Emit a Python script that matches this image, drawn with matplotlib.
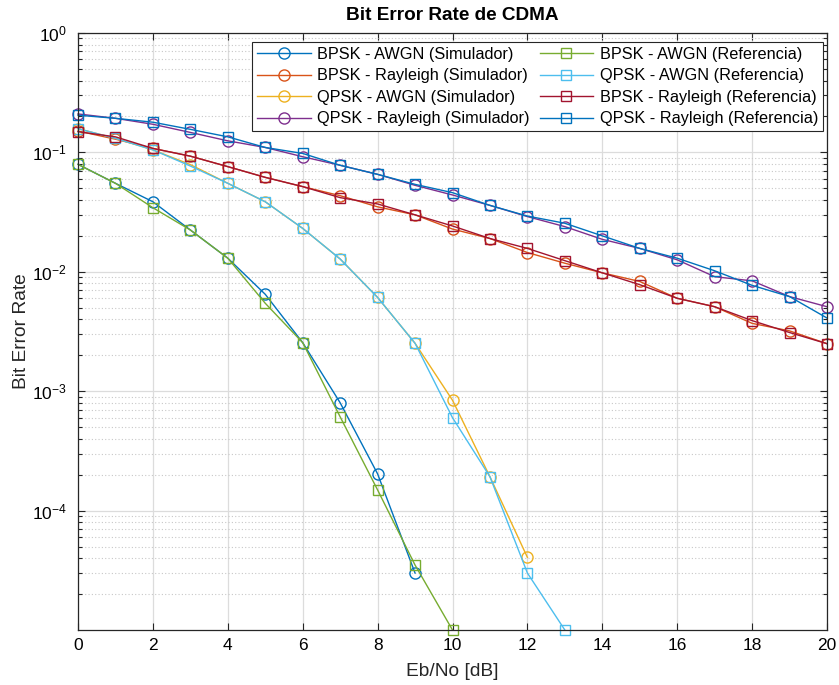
import numpy as np
import matplotlib
matplotlib.use("Agg")
import matplotlib.pyplot as plt
from matplotlib.ticker import LogLocator, FixedLocator, NullFormatter

plt.rcParams['font.family'] = ['Liberation Sans', 'DejaVu Sans']

ebno = np.arange(0, 21)
nan = np.nan

# Simulated bit error rates
bpsk_awgn_sim = [0.0794, 0.0551, 0.0386, 0.0224, 0.0130, 0.00648, 0.00255, 8.0e-4,
                 2.03e-4, 3.0e-5, nan, nan, nan, nan, nan, nan, nan, nan, nan, nan, nan]
bpsk_ray_sim = [0.151, 0.129, 0.108, 0.093, 0.076, 0.0618, 0.0517, 0.0434, 0.035, 0.030,
                0.0228, 0.019, 0.0145, 0.0118, 0.0098, 0.0083, 0.0060, 0.0051, 0.0037,
                0.0032, 0.0025]
qpsk_awgn_sim = [0.158, 0.131, 0.105, 0.079, 0.0551, 0.0386, 0.0231, 0.0128, 0.0061,
                 0.00252, 8.4e-4, 1.92e-4, 4.06e-5, nan, nan, nan, nan, nan, nan, nan, nan]
qpsk_ray_sim = [0.210, 0.193, 0.172, 0.147, 0.125, 0.110, 0.092, 0.078, 0.0655, 0.053,
                0.044, 0.036, 0.0290, 0.0239, 0.0187, 0.0157, 0.0126, 0.0091, 0.0084,
                0.0062, 0.0051]

# Reference (theoretical) bit error rates
bpsk_awgn_ref = [0.0794, 0.0551, 0.0344, 0.0224, 0.0130, 0.00545, 0.00255, 6.1e-4,
                 1.49e-4, 3.5e-5, 1.0e-5, nan, nan, nan, nan, nan, nan, nan, nan, nan, nan]
qpsk_awgn_ref = [0.158, 0.131, 0.105, 0.0769, 0.0551, 0.0386, 0.0231, 0.0128, 0.0061,
                 0.00252, 6.0e-4, 1.92e-4, 3.0e-5, 1.0e-5, nan, nan, nan, nan, nan, nan, nan]
bpsk_ray_ref = [0.149, 0.135, 0.108, 0.093, 0.076, 0.0618, 0.0517, 0.0418, 0.037, 0.030,
                0.0242, 0.019, 0.0157, 0.0124, 0.0098, 0.0078, 0.0060, 0.0051, 0.0039,
                0.0031, 0.0025]
qpsk_ray_ref = [0.205, 0.193, 0.179, 0.156, 0.135, 0.110, 0.098, 0.078, 0.0655, 0.054,
                0.046, 0.036, 0.0293, 0.0255, 0.0200, 0.0157, 0.0130, 0.0102, 0.0077,
                0.0062, 0.0041]

series = [
    ("BPSK - AWGN (Simulador)", bpsk_awgn_sim, "o", (0.0, 0.447, 0.741)),
    ("BPSK - Rayleigh (Simulador)", bpsk_ray_sim, "o", (0.850, 0.325, 0.098)),
    ("QPSK - AWGN (Simulador)", qpsk_awgn_sim, "o", (0.929, 0.694, 0.125)),
    ("QPSK - Rayleigh (Simulador)", qpsk_ray_sim, "o", (0.494, 0.184, 0.556)),
    ("BPSK - AWGN (Referencia)", bpsk_awgn_ref, "s", (0.466, 0.674, 0.188)),
    ("QPSK - AWGN (Referencia)", qpsk_awgn_ref, "s", (0.301, 0.745, 0.933)),
    ("BPSK - Rayleigh (Referencia)", bpsk_ray_ref, "s", (0.635, 0.078, 0.184)),
    ("QPSK - Rayleigh (Referencia)", qpsk_ray_ref, "s", (0.0, 0.447, 0.741)),
]

fig = plt.figure(figsize=(8.39, 6.85), dpi=100)
ax = fig.add_axes([78 / 839, 1 - 630 / 685, (827 - 78) / 839, (630 - 33) / 685])

for label, vals, marker, color in series:
    ax.semilogy(ebno, vals, marker=marker, color=color, lw=1.0, ms=8 if marker == "o" else 7,
                mfc="none", mew=1.0, label=label, clip_on=False)

ax.set_xlim(0, 20)
ax.set_ylim(1e-5, 1)
ax.xaxis.set_major_locator(FixedLocator(np.arange(0, 21, 2)))
ax.yaxis.set_major_locator(FixedLocator([1e-4, 1e-3, 1e-2, 1e-1, 1e0]))
ax.yaxis.set_minor_locator(LogLocator(base=10, subs=np.arange(2, 10)))
ax.yaxis.set_minor_formatter(NullFormatter())

ax.grid(True, which="major", axis="both", color="#dcdcdc", lw=0.9, ls="-")
ax.grid(True, which="minor", axis="y", color="#c8c8c8", lw=0.8, ls=(0, (1, 2)))
ax.set_axisbelow(True)

ax.tick_params(which="both", direction="in", top=True, right=True, labelsize=12.5,
               color="#262626", width=0.8)
ax.tick_params(which="major", length=5)
ax.tick_params(which="minor", length=3)
ax.tick_params(axis="x", which="major", pad=6)
ax.tick_params(axis="y", which="major", pad=8)
for s in ax.spines.values():
    s.set_color("#262626")
    s.set_linewidth(0.9)

ax.set_xlabel("Eb/No [dB]", fontsize=13.8, color="#262626", labelpad=7)
ax.set_ylabel("Bit Error Rate", fontsize=13.8, color="#262626", labelpad=1)
ax.set_title("Bit Error Rate de CDMA", fontsize=13.7, fontweight="bold", pad=9)

leg = ax.legend(ncol=2, loc="upper right", bbox_to_anchor=(823 / 839, 1 - 42 / 685),
                bbox_transform=fig.transFigure, borderaxespad=0, fontsize=11.7,
                fancybox=False, framealpha=1, edgecolor="#262626", handlelength=3.3,
                handletextpad=0.4, columnspacing=0.6, labelspacing=0.4, borderpad=0.3)
leg.get_frame().set_linewidth(0.8)

fig.savefig("out.png", dpi=100)
